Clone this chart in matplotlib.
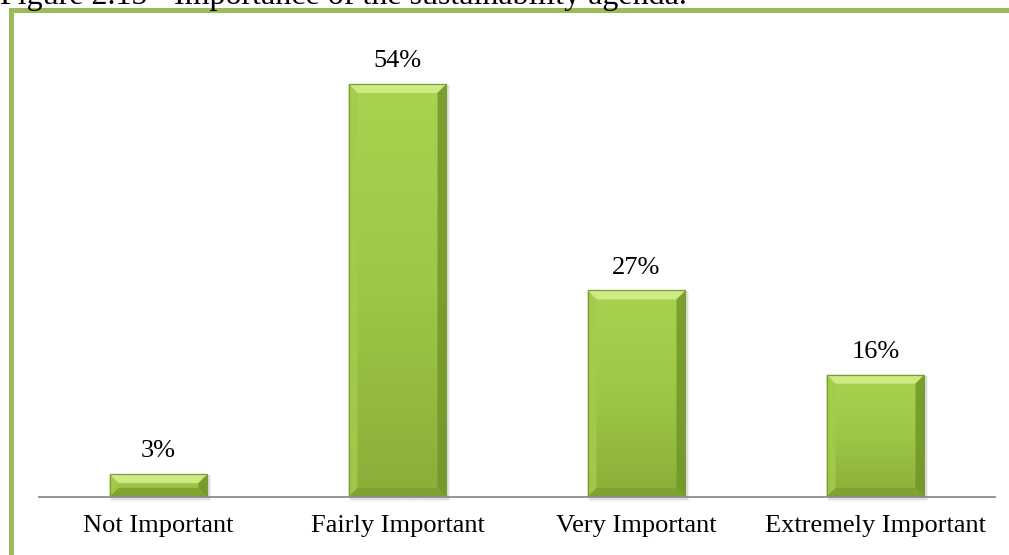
import matplotlib

matplotlib.use("Agg")

import matplotlib.pyplot as plt  # noqa: E402
import numpy as np  # noqa: E402
from matplotlib.colors import LinearSegmentedColormap  # noqa: E402
from matplotlib.patches import Polygon, Rectangle  # noqa: E402

categories = ["Not Important", "Fairly Important", "Very Important", "Extremely Important"]
shares = [3, 54, 27, 16]  # percent of respondents
value_labels = ["3%", "54%", "27%", "16%"]

caption = "Figure 2.15 - Importance of the sustainability agenda."

FRAME_GREEN = "#9BBB59"
BAR_MAIN = LinearSegmentedColormap.from_list("bar", ["#8AAE39", "#9DC745", "#A9D24F"])
BEVEL_PX = 9

plt.rcParams["font.family"] = ["Liberation Serif", "DejaVu Serif"]

fig = plt.figure(figsize=(10.09, 5.55), dpi=100)
W, H = 1009, 555

# caption sits above the frame, partly cut by the top edge
fig.text(0.0, 1 - 4 / H, caption, fontsize=23, va="baseline", ha="left")

# green frame around the chart (runs off the right and bottom edges)
fig.patches.append(Rectangle((10.5 / W, -0.2), 1.2, 1 - 9.5 / H + 0.2,
                             transform=fig.transFigure, fill=False,
                             edgecolor=FRAME_GREEN, linewidth=3.6))

ax = fig.add_axes([39 / W, 1 - 497 / H, (995 - 39) / W, (497 - 38) / H])
ax.set_xlim(-0.5, 3.5)
ax.set_ylim(0, 60)
for side in ("left", "right", "top"):
    ax.spines[side].set_visible(False)
ax.spines["bottom"].set_color("#8C8C8C")
ax.spines["bottom"].set_linewidth(1.3)
ax.set_yticks([])
ax.set_xticks(range(len(categories)))
ax.set_xticklabels(categories, fontsize=19)
ax.tick_params(axis="x", length=0, pad=13)

x = np.arange(len(categories))
bars = ax.bar(x, shares, width=0.41, color="none", edgecolor="none", zorder=3)

to_data = ax.transData.inverted()


def poly(points):
    return to_data.transform(np.array(points))


grad = np.linspace(0, 1, 256).reshape(-1, 1)
for bar, label in zip(bars, value_labels):
    x0, y0 = bar.get_x(), bar.get_y()
    x1, y1 = x0 + bar.get_width(), y0 + bar.get_height()
    (px0, py0), (px1, py1) = ax.transData.transform([(x0, y0), (x1, y1)])
    b = min(BEVEL_PX, (py1 - py0) / 2.2)

    # soft drop shadow
    for k, a in ((4, 0.10), (2.5, 0.14)):
        ax.add_patch(Polygon(poly([(px0 + 1, py0 - k), (px1 + k, py0 - k),
                                   (px1 + k, py1 - 1), (px0 + 1, py1 - 1)]),
                             closed=True, facecolor="#7F7F7F", alpha=a,
                             edgecolor="none", zorder=2, clip_on=False))

    # body with vertical gradient, clipped to the bar
    body = Rectangle((x0, y0), x1 - x0, y1 - y0, facecolor="none",
                     edgecolor="none", zorder=3)
    ax.add_patch(body)
    im = ax.imshow(grad, cmap=BAR_MAIN, extent=(x0, x1, y0, y1), origin="lower",
                   aspect="auto", zorder=3, interpolation="bilinear")
    im.set_clip_path(body)

    # bevel faces
    top = [(px0, py1), (px1, py1), (px1 - b, py1 - b), (px0 + b, py1 - b)]
    left = [(px0, py0), (px0, py1), (px0 + b, py1 - b), (px0 + b, py0 + b)]
    right = [(px1, py0), (px1, py1), (px1 - b, py1 - b), (px1 - b, py0 + b)]
    bottom = [(px0, py0), (px1, py0), (px1 - b, py0 + b), (px0 + b, py0 + b)]
    for pts, col, a in ((top, "#D2EE8C", 0.9), (left, "#A4CC4C", 0.8),
                        (right, "#6F9327", 0.8), (bottom, "#7C9F31", 0.8)):
        ax.add_patch(Polygon(poly(pts), closed=True, facecolor=col, alpha=a,
                             edgecolor="none", zorder=4))
    ax.add_patch(Rectangle((x0, y0), x1 - x0, y1 - y0, facecolor="none",
                           edgecolor="#7E9B3C", linewidth=0.9, zorder=5))

    ax.annotate(label, (bar.get_x() + bar.get_width() / 2, y1),
                xytext=(0, 12), textcoords="offset points",
                ha="center", va="baseline", fontsize=19)

# keep the axis line above the shadows
ax.spines["bottom"].set_zorder(6)

fig.savefig("out.png", dpi=100)
